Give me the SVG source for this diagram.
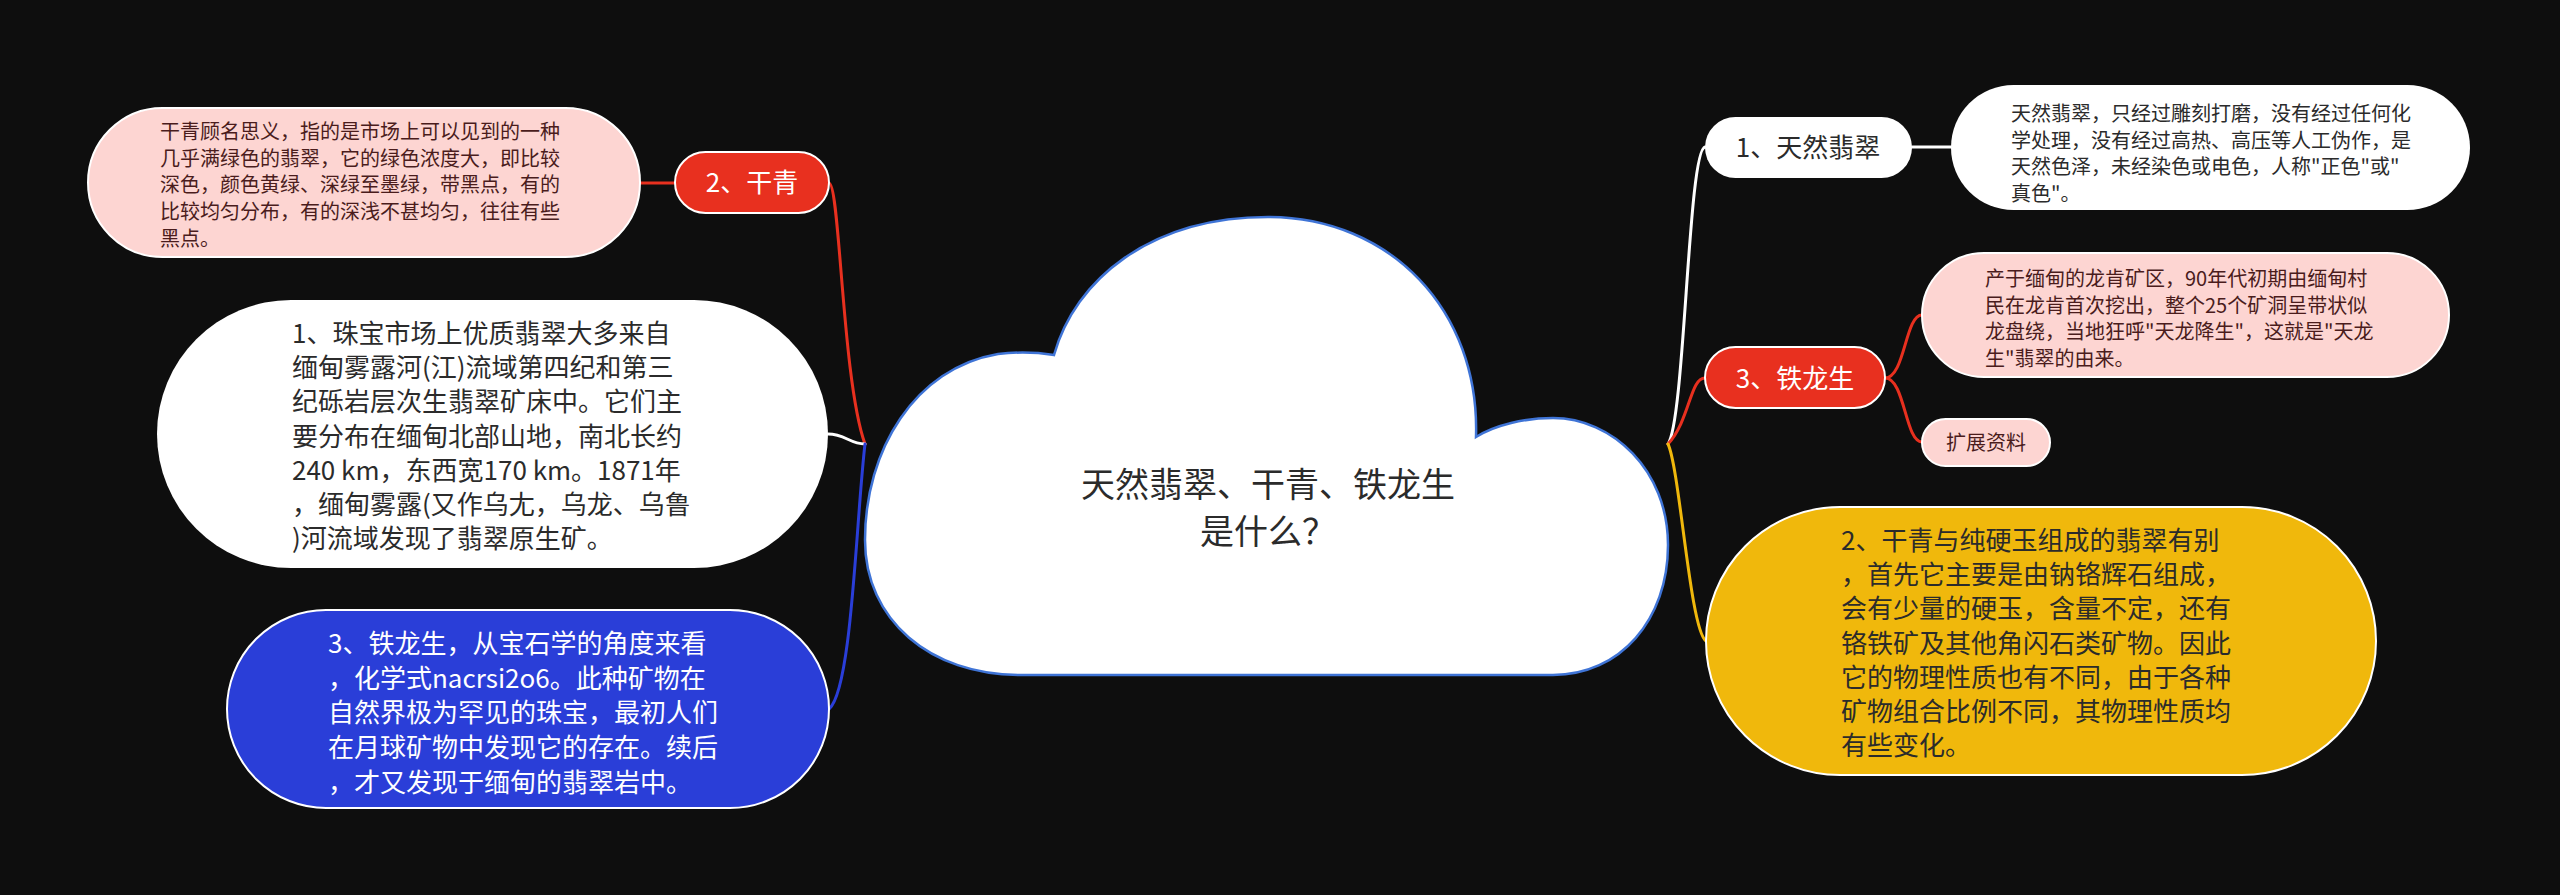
<svg xmlns="http://www.w3.org/2000/svg" width="2560" height="895" viewBox="0 0 2560 895">
<style>
text{font-family:"Noto Sans CJK SC","Liberation Sans",sans-serif;}
.t26{font-size:26px;}
.t20{font-size:20px;}
.dark{fill:#2b2b2b;}
.maroon{fill:#4a1c1c;}
.wt{fill:#ffffff;}
.conn{fill:none;stroke-width:3;stroke-linecap:round;}
.nb{stroke:#ffffff;stroke-width:2;}
</style>
<rect x="0" y="0" width="2560" height="895" fill="#0e0e0e"/>
<g id="connectors">
  <path class="conn" stroke="#e8301f" d="M 640 183 L 675 183"/>
  <path class="conn" stroke="#e8301f" d="M 829 183 C 840 183, 842 380, 865 444"/>
  <path class="conn" stroke="#ffffff" d="M 828 434 C 845 434, 850 444, 865 444"/>
  <path class="conn" stroke="#2a3ed8" d="M 865 444 C 856 520, 852 690, 829 709"/>
  <path class="conn" stroke="#ffffff" d="M 1668 444 C 1685 420, 1688 150, 1705 147"/>
  <path class="conn" stroke="#e8301f" d="M 1668 444 C 1690 420, 1690 378, 1705 378"/>
  <path class="conn" stroke="#f0b80c" d="M 1668 444 C 1680 470, 1690 630, 1706 641"/>
  <path class="conn" stroke="#ffffff" d="M 1912 147 L 1951 147"/>
  <path class="conn" stroke="#e8301f" d="M 1885 378 C 1905 378, 1905 315, 1922 315"/>
  <path class="conn" stroke="#e8301f" d="M 1885 378 C 1905 378, 1905 442, 1922 442"/>
</g>
<g id="root">
  <path d="M 1020 675 L 1553 675 C 1620 675, 1668 620, 1668 545 C 1668 470, 1612 418, 1553 418 C 1525 418, 1495 425, 1476 437 C 1480 310, 1390 217, 1268 217 C 1150 217, 1075 280, 1054 355 C 1035 352, 1015 352, 998 354 C 915 368, 865 450, 865 540 C 865 620, 930 675, 1020 675 Z" fill="#ffffff" stroke="#3f74d6" stroke-width="2.5"/>
  <text x="1268" y="497" text-anchor="middle" font-size="34" class="dark">天然翡翠、干青、铁龙生</text>
  <text x="1268" y="544" text-anchor="middle" font-size="34" class="dark">是什么？</text>
</g>
<g id="n-ganqing-desc">
  <rect x="88" y="108" width="552" height="149" rx="74.5" fill="#fdd5d2" class="nb"/>
  <text class="t20 maroon" x="160" y="139">干青顾名思义，指的是市场上可以见到的一种<tspan x="160" dy="26.7">几乎满绿色的翡翠，它的绿色浓度大，即比较</tspan><tspan x="160" dy="26.7">深色，颜色黄绿、深绿至墨绿，带黑点，有的</tspan><tspan x="160" dy="26.7">比较均匀分布，有的深浅不甚均匀，往往有些</tspan><tspan x="160" dy="26.7">黑点。</tspan></text>
</g>
<g id="n-ganqing">
  <rect x="675" y="152" width="154" height="61" rx="30.5" fill="#e8301f" class="nb"/>
  <text class="t26 wt" x="752" y="192" text-anchor="middle">2、干青</text>
</g>
<g id="n-origin">
  <rect x="157" y="300" width="671" height="268" rx="134" fill="#ffffff"/>
  <text class="t26 dark" x="292" y="343">1、珠宝市场上优质翡翠大多来自<tspan x="292" dy="34.2">缅甸雾露河(江)流域第四纪和第三</tspan><tspan x="292" dy="34.2">纪砾岩层次生翡翠矿床中。它们主</tspan><tspan x="292" dy="34.2">要分布在缅甸北部山地，南北长约</tspan><tspan x="292" dy="34.2">240 km，东西宽170 km。1871年</tspan><tspan x="292" dy="34.2">，缅甸雾露(又作乌尢，乌龙、乌鲁</tspan><tspan x="292" dy="34.2">)河流域发现了翡翠原生矿。</tspan></text>
</g>
<g id="n-tielongsheng-left">
  <rect x="227" y="610" width="602" height="198" rx="99" fill="#2a3ed8" class="nb"/>
  <text class="t26 wt" x="328" y="653">3、铁龙生，从宝石学的角度来看<tspan x="328" dy="34.7">，化学式nacrsi2o6。此种矿物在</tspan><tspan x="328" dy="34.7">自然界极为罕见的珠宝，最初人们</tspan><tspan x="328" dy="34.7">在月球矿物中发现它的存在。续后</tspan><tspan x="328" dy="34.7">，才又发现于缅甸的翡翠岩中。</tspan></text>
</g>
<g id="n-natural">
  <rect x="1705" y="117" width="207" height="61" rx="30.5" fill="#ffffff"/>
  <text class="t26 dark" x="1808" y="157" text-anchor="middle">1、天然翡翠</text>
</g>
<g id="n-natural-desc">
  <rect x="1951" y="85" width="519" height="125" rx="62.5" fill="#ffffff"/>
  <text class="t20 dark" x="2011" y="121">天然翡翠，只经过雕刻打磨，没有经过任何化<tspan x="2011" dy="26.5">学处理，没有经过高热、高压等人工伪作，是</tspan><tspan x="2011" dy="26.5">天然色泽，未经染色或电色，人称"正色"或"</tspan><tspan x="2011" dy="26.5">真色"。</tspan></text>
</g>
<g id="n-tielongsheng">
  <rect x="1705" y="347" width="180" height="61" rx="30.5" fill="#e8301f" class="nb"/>
  <text class="t26 wt" x="1795" y="388" text-anchor="middle">3、铁龙生</text>
</g>
<g id="n-tielongsheng-desc">
  <rect x="1922" y="253" width="527" height="124" rx="62" fill="#fdd5d2" class="nb"/>
  <text class="t20 maroon" x="1985" y="286">产于缅甸的龙肯矿区，90年代初期由缅甸村<tspan x="1985" dy="26.5">民在龙肯首次挖出，整个25个矿洞呈带状似</tspan><tspan x="1985" dy="26.5">龙盘绕，当地狂呼"天龙降生"，这就是"天龙</tspan><tspan x="1985" dy="26.5">生"翡翠的由来。</tspan></text>
</g>
<g id="n-more">
  <rect x="1922" y="419" width="128" height="47" rx="23.5" fill="#fdd5d2" class="nb"/>
  <text class="t20 maroon" x="1986" y="450" text-anchor="middle">扩展资料</text>
</g>
<g id="n-ganqing-right">
  <rect x="1706" y="507" width="670" height="268" rx="134" fill="#f0b80c" class="nb"/>
  <text class="t26 dark" x="1841" y="550">2、干青与纯硬玉组成的翡翠有别<tspan x="1841" dy="34.2">，首先它主要是由钠铬辉石组成，</tspan><tspan x="1841" dy="34.2">会有少量的硬玉，含量不定，还有</tspan><tspan x="1841" dy="34.2">铬铁矿及其他角闪石类矿物。因此</tspan><tspan x="1841" dy="34.2">它的物理性质也有不同，由于各种</tspan><tspan x="1841" dy="34.2">矿物组合比例不同，其物理性质均</tspan><tspan x="1841" dy="34.2">有些变化。</tspan></text>
</g>
</svg>
